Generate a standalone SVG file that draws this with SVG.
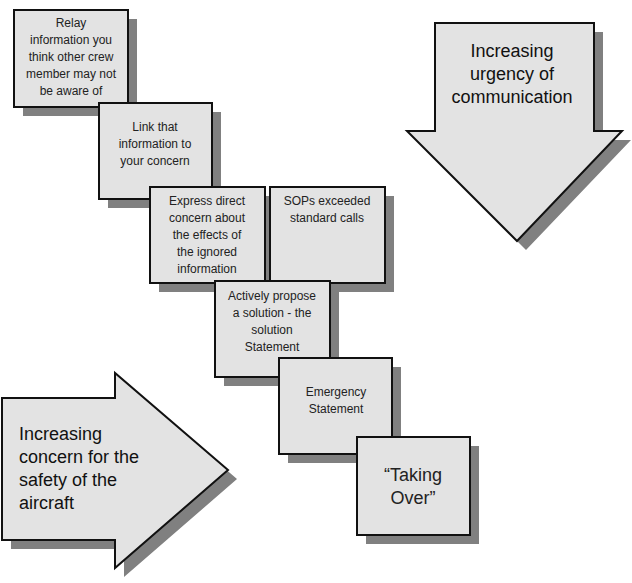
<svg xmlns="http://www.w3.org/2000/svg" width="632" height="583" viewBox="0 0 632 583">
<style>
.s{fill:#808080}
.b{fill:#e3e3e3;stroke:#111;stroke-width:2}
.t{font-family:"Liberation Sans",Arial,sans-serif;font-size:12px;fill:#222;text-anchor:middle}
.L{font-family:"Liberation Sans",Arial,sans-serif;font-size:18px;fill:#111}
</style>
<rect width="632" height="583" fill="#fff"/>
<g id="down-arrow">
<polygon class="s" points="444,32 603,32 603,140 631,140 526,250 416,140 444,140"/>
<polygon class="b" points="435,23 594,23 594,131 622,131 517,241 407,131 435,131"/>
<text class="L" text-anchor="middle" x="512" y="57">Increasing</text>
<text class="L" text-anchor="middle" x="512" y="80">urgency of</text>
<text class="L" text-anchor="middle" x="512" y="103">communication</text>
</g>
<g id="right-arrow">
<polygon class="s" points="11,407 124,407 124,382 237,479 124,577 124,549 11,549"/>
<polygon class="b" points="2,398 115,398 115,373 228,470 115,568 115,540 2,540"/>
<text class="L" x="19" y="440">Increasing</text>
<text class="L" x="19" y="463">concern for the</text>
<text class="L" x="19" y="486">safety of the</text>
<text class="L" x="19" y="509">aircraft</text>
</g>
<g id="n1"><rect class="s" x="23" y="19" width="114" height="97"/><rect class="b" x="14" y="10" width="114" height="97"/>
<text class="t"><tspan x="71" y="27">Relay</tspan><tspan x="71" y="44">information you</tspan><tspan x="71" y="61">think other crew</tspan><tspan x="71" y="78">member may not</tspan><tspan x="71" y="95">be aware of</tspan></text></g>
<g id="n2"><rect class="s" x="108" y="112" width="113" height="96"/><rect class="b" x="99" y="103" width="113" height="96"/>
<text class="t"><tspan x="155" y="131">Link that</tspan><tspan x="155" y="148">information to</tspan><tspan x="155" y="165">your concern</tspan></text></g>
<g id="n3"><rect class="s" x="159" y="196" width="115" height="96"/><rect class="b" x="150" y="187" width="115" height="96"/>
<text class="t"><tspan x="207" y="205">Express direct</tspan><tspan x="207" y="222">concern about</tspan><tspan x="207" y="239">the effects of</tspan><tspan x="207" y="256">the ignored</tspan><tspan x="207" y="273">information</tspan></text></g>
<g id="n4"><rect class="s" x="279" y="196" width="115" height="96"/><rect class="b" x="270" y="187" width="115" height="96"/>
<text class="t"><tspan x="327" y="205">SOPs exceeded</tspan><tspan x="327" y="222">standard calls</tspan></text></g>
<g id="n5"><rect class="s" x="224" y="290" width="115" height="96"/><rect class="b" x="215" y="281" width="115" height="96"/>
<text class="t"><tspan x="272" y="300">Actively propose</tspan><tspan x="272" y="317">a solution - the</tspan><tspan x="272" y="334">solution</tspan><tspan x="272" y="351">Statement</tspan></text></g>
<g id="n6"><rect class="s" x="288" y="367" width="113" height="96"/><rect class="b" x="279" y="358" width="113" height="96"/>
<text class="t"><tspan x="336" y="396">Emergency</tspan><tspan x="336" y="413">Statement</tspan></text></g>
<g id="n7"><rect class="s" x="366" y="446" width="113" height="98"/><rect class="b" x="357" y="437" width="113" height="98"/>
<text class="t" style="font-size:18px"><tspan x="413" y="481">“Taking</tspan><tspan x="413" y="504">Over”</tspan></text></g>
<g id="connectors"/>
</svg>
